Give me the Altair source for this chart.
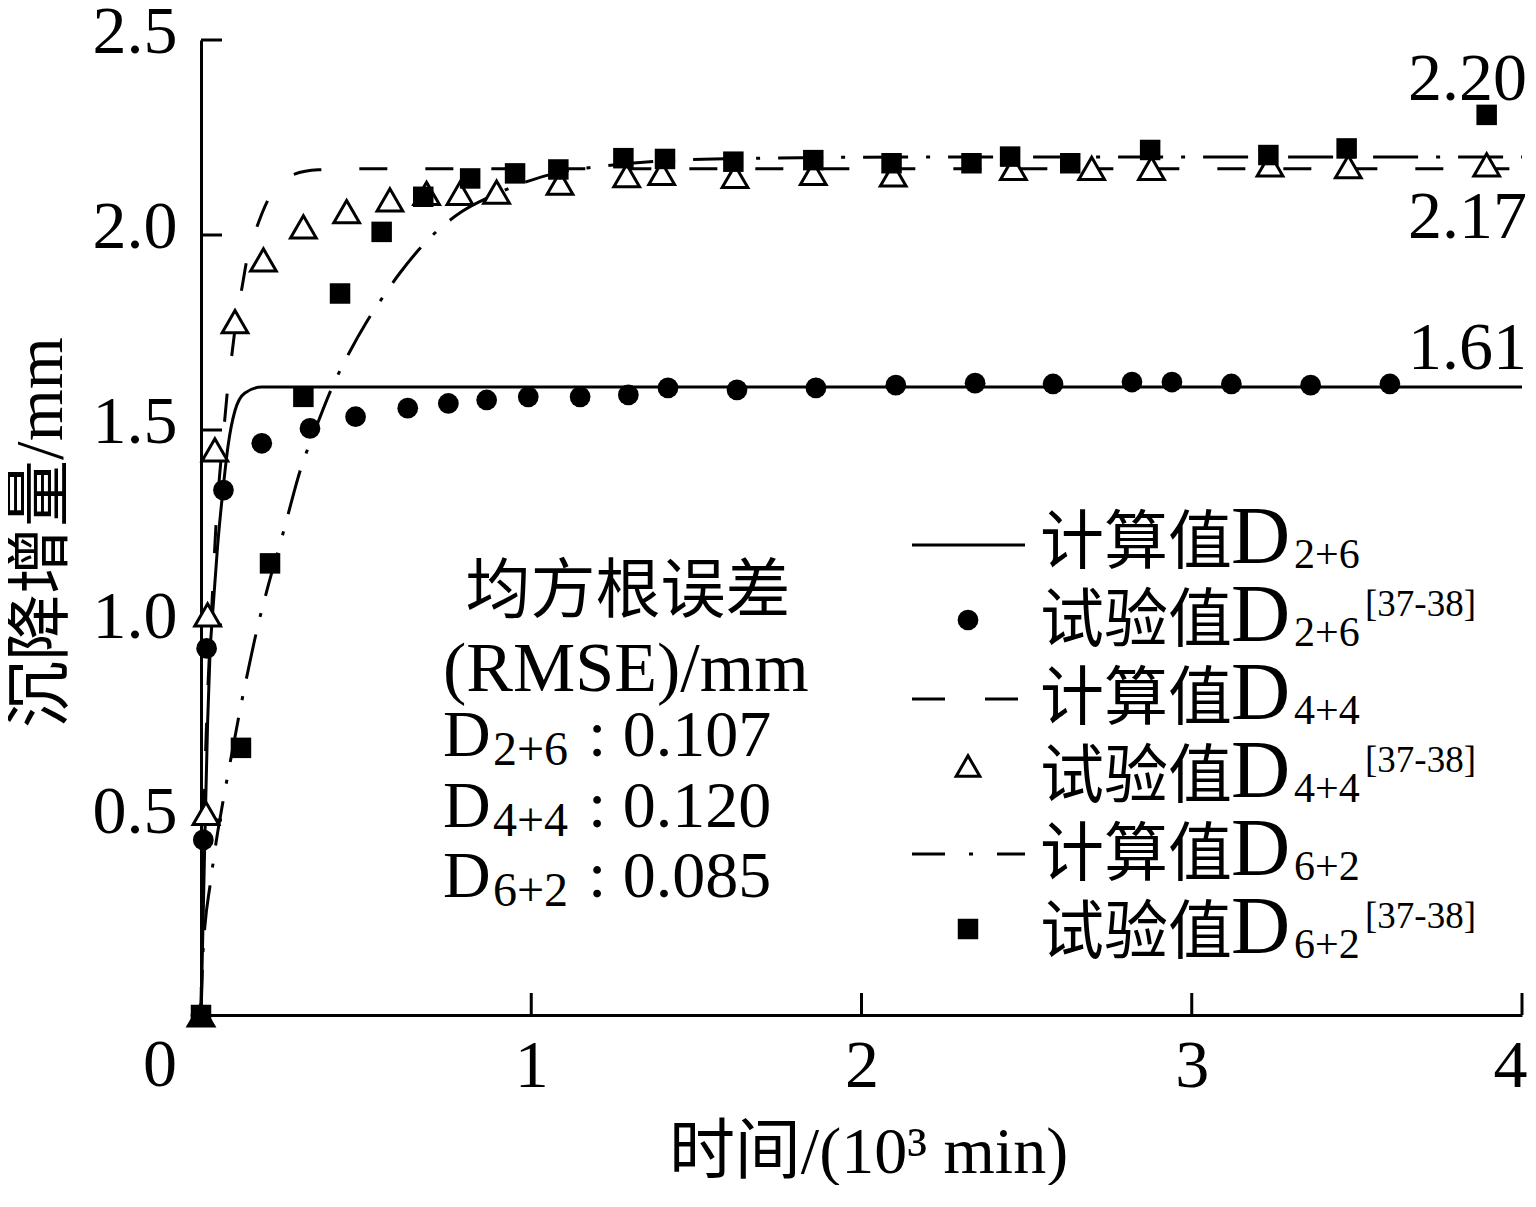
import altair as alt
import pandas as pd

# ---------------- data ----------------
# calculated curves (time in 10^3 min, settlement increment in mm)
calc_26_t = [0, 0.006, 0.012, 0.02, 0.027, 0.037, 0.05, 0.067, 0.082, 0.103, 0.133, 0.184, 0.3, 4.0]
calc_26_y = [0, 0.23, 0.466, 0.75, 0.92, 1.05, 1.2, 1.35, 1.46, 1.55, 1.595, 1.61, 1.61, 1.61]

calc_44_t = [0, 0.004, 0.01, 0.02, 0.03, 0.037, 0.047, 0.057, 0.067, 0.08, 0.093, 0.108, 0.123,
             0.142, 0.169, 0.2, 0.248, 0.276, 0.355, 0.5, 4.0]
calc_44_y = [0, 0.3, 0.55, 0.82, 1.0, 1.12, 1.28, 1.39, 1.48, 1.6, 1.69, 1.79, 1.86,
             1.95, 2.02, 2.085, 2.136, 2.154, 2.167, 2.17, 2.17]

calc_62_t = [0, 0.006, 0.012, 0.027, 0.047, 0.063, 0.08, 0.1, 0.12, 0.143, 0.17, 0.2, 0.25, 0.3,
             0.35, 0.4, 0.45, 0.5, 0.55, 0.6, 0.69, 0.79, 0.88, 0.98, 1.08, 1.2, 1.4, 1.7, 2.2, 4.0]
calc_62_y = [0, 0.16, 0.23, 0.33, 0.45, 0.53, 0.61, 0.70, 0.79, 0.885, 0.99, 1.09, 1.24, 1.395,
             1.51, 1.615, 1.70, 1.775, 1.84, 1.90, 1.99, 2.06, 2.10, 2.135, 2.16, 2.175, 2.19, 2.197, 2.2, 2.2]

# experimental points
exp_26_t = [0, 0.007, 0.017, 0.068, 0.184, 0.33, 0.468, 0.626, 0.749, 0.865, 0.991, 1.148, 1.294,
            1.414, 1.623, 1.862, 2.104, 2.344, 2.58, 2.819, 2.94, 3.12, 3.36, 3.6]
exp_26_y = [0, 0.449, 0.94, 1.346, 1.466, 1.504, 1.534, 1.556, 1.568, 1.577, 1.585, 1.585, 1.59,
            1.608, 1.603, 1.608, 1.615, 1.62, 1.618, 1.623, 1.623, 1.618, 1.615, 1.618]

exp_44_t = [0, 0.015, 0.02, 0.042, 0.103, 0.189, 0.31, 0.441, 0.572, 0.683, 0.784, 0.895, 1.087,
            1.289, 1.395, 1.617, 1.854, 2.096, 2.46, 2.697, 2.878, 3.237, 3.474, 3.893]
exp_44_y = [0, 0.517, 1.026, 1.449, 1.778, 1.936, 2.021, 2.06, 2.09, 2.107, 2.107, 2.11, 2.133,
            2.152, 2.158, 2.15, 2.158, 2.154, 2.171, 2.171, 2.171, 2.18, 2.175, 2.18]

exp_62_t = [0, 0.121, 0.209, 0.31, 0.421, 0.547, 0.673, 0.815, 0.951, 1.082, 1.279, 1.405, 1.612,
            1.854, 2.091, 2.333, 2.45, 2.632, 2.874, 3.232, 3.469, 3.893]
exp_62_y = [0, 0.685, 1.158, 1.585, 1.85, 2.008, 2.098, 2.145, 2.158, 2.168, 2.197, 2.195, 2.188,
            2.192, 2.184, 2.184, 2.201, 2.184, 2.218, 2.205, 2.222, 2.308]

# axes
y_ticks = [0.5, 1.0, 1.5, 2.0, 2.5]
x_ticks = [1, 2, 3, 4]
origin_label = ["0"]
x_title = "时间/(10³ min)"
y_title = "沉降增量/mm"

# end-value annotations
end_values = [2.20, 2.17, 1.61]
end_texts = ["2.20", "2.17", "1.61"]

# legend
legend_main = ["计算值", "试验值", "计算值", "试验值", "计算值", "试验值"]
legend_sub = ["2+6", "2+6", "4+4", "4+4", "6+2", "6+2"]
legend_ref = ["", "[37-38]", "", "[37-38]", "", "[37-38]"]

# RMSE box
rmse_title = ["均方根误差", "(RMSE)/mm"]
rmse_names = ["2+6", "4+4", "6+2"]
rmse_values = ["0.107", "0.120", "0.085"]

# ---------------- styling ----------------
W, H = 1321, 975
LEFT, TOP, RIGHT = 193, 32, 6
SERIF = "Liberation Serif, Noto Sans CJK SC"
CJK = "Noto Sans CJK SC"
DASH = [28, 38]
DASHDOT = [45, 18, 4, 18]

xs = alt.Scale(domain=[0, 4], nice=False, zero=False)
ys = alt.Scale(domain=[0, 2.5], nice=False, zero=False)

XA = alt.Axis(values=x_ticks, format="d", ticks=False, grid=False, domain=True,
              domainColor="black", domainWidth=3, labelFont=SERIF, labelFontSize=68,
              labelColor="black", labelPadding=17, labelFlush=True, labelFlushOffset=5,
              labelBound=False,
              title=x_title, titleFont=SERIF, titleFontSize=66, titleFontWeight="normal",
              titleColor="black", titleX=667, titleY=137, titleBaseline="middle",
              titleAlign="center", titleAngle=0)
YA = alt.Axis(values=y_ticks, format=".1f", ticks=False, grid=False, domain=True,
              domainColor="black", domainWidth=3, labelFont=SERIF, labelFontSize=68,
              labelColor="black", labelPadding=24, labelOffset=-8, labelFlush=False,
              labelBound=False, title=y_title, titleFont=SERIF, titleFontSize=67,
              titleFontWeight="normal", titleColor="black", titleX=-160, titleY=492,
              titleBaseline="middle", titleAlign="center", titleAngle=270)


def px(page_x):
    return page_x - 8 - LEFT


def py(page_y):
    return page_y - 8 - TOP


def X(field):
    return alt.X(field, scale=xs, axis=XA)


def Y(field):
    return alt.Y(field, scale=ys, axis=YA)


def curve(t, y, dash=None):
    df = pd.DataFrame({"t": t, "y": y})
    kw = dict(color="black", strokeWidth=3, interpolate="monotone", clip=False)
    if dash:
        kw["strokeDash"] = dash
    return alt.Chart(df).mark_line(**kw).encode(x=X("t:Q"), y=Y("y:Q"))


def points(t, y, shape, size, fill, stroke_width=0):
    df = pd.DataFrame({"t": t, "y": y})
    return alt.Chart(df).mark_point(shape=shape, size=size, filled=True, fill=fill, stroke="black",
                                    strokeWidth=stroke_width, opacity=1, clip=False).encode(
        x=X("t:Q"), y=Y("y:Q"))


def text(s, x, y, size, font=SERIF, align="left", baseline="alphabetic"):
    df = pd.DataFrame({"s": [s]})
    return alt.Chart(df).mark_text(font=font, fontSize=size, align=align, baseline=baseline,
                                   color="black").encode(
        x=alt.value(x), y=alt.value(y), text="s:N")


layers = []
layers.append(curve(calc_26_t, calc_26_y))
layers.append(curve(calc_44_t, calc_44_y, dash=DASH))
layers.append(curve(calc_62_t, calc_62_y, dash=DASHDOT))

# inward ticks
ty = pd.DataFrame({"v": y_ticks})
layers.append(alt.Chart(ty).mark_rule(color="black", strokeWidth=3).encode(
    y=Y("v:Q"), x=alt.value(0), x2=alt.value(21)))
tx = pd.DataFrame({"v": x_ticks})
layers.append(alt.Chart(tx).mark_rule(color="black", strokeWidth=3).encode(
    x=X("v:Q"), y=alt.value(H - 22), y2=alt.value(H)))

# origin label
ol = pd.DataFrame({"v": [0], "s": origin_label})
layers.append(alt.Chart(ol).mark_text(font=SERIF, fontSize=68, baseline="top", align="center",
                                      dx=-41, color="black").encode(
    x=X("v:Q"), y=alt.value(H + 17), text="s:N"))

# points
layers.append(points(exp_26_t, exp_26_y, "circle", 430, "black"))
layers.append(points(exp_44_t, exp_44_y, "triangle-up", 660, "white", 3))
layers.append(points(exp_62_t, exp_62_y, "square", 420, "black"))

# end-value annotations
for v, s, dy in zip(end_values, end_texts, [-57, 69, -18]):
    d = pd.DataFrame({"t": [4.0], "y": [v], "s": [s]})
    layers.append(alt.Chart(d).mark_text(font=SERIF, fontSize=68, align="right",
                                         baseline="alphabetic", dx=5, dy=dy, color="black").encode(
        x=X("t:Q"), y=Y("y:Q"), text="s:N"))

# legend
row_base = [563, 641, 719, 797, 875, 953]
for i in range(6):
    b = row_base[i]
    layers.append(text(legend_main[i], px(1040), py(b), 64, font=CJK))
    layers.append(text("D", px(1231), py(b), 82))
    layers.append(text(legend_sub[i], px(1294), py(b + 5), 42))
    if legend_ref[i]:
        layers.append(text(legend_ref[i], px(1365), py(b - 25), 37))

sym = pd.DataFrame({"k": [0]})
layers.append(alt.Chart(sym).mark_rule(color="black", strokeWidth=3).encode(
    x=alt.value(px(912)), x2=alt.value(px(1025)), y=alt.value(py(545))))
layers.append(alt.Chart(sym).mark_rule(color="black", strokeWidth=3, strokeDash=[33, 40]).encode(
    x=alt.value(px(912)), x2=alt.value(px(1025)), y=alt.value(py(699))))
layers.append(alt.Chart(sym).mark_rule(color="black", strokeWidth=3, strokeDash=[33, 24, 4, 24]).encode(
    x=alt.value(px(912)), x2=alt.value(px(1025)), y=alt.value(py(854))))
layers.append(alt.Chart(sym).mark_point(shape="circle", size=430, filled=True, fill="black",
                                        opacity=1).encode(
    x=alt.value(px(968)), y=alt.value(py(620))))
layers.append(alt.Chart(sym).mark_point(shape="triangle-up", size=560, filled=True, fill="white",
                                        stroke="black", strokeWidth=3, opacity=1).encode(
    x=alt.value(px(968)), y=alt.value(py(766))))
layers.append(alt.Chart(sym).mark_point(shape="square", size=420, filled=True, fill="black",
                                        opacity=1).encode(
    x=alt.value(px(968)), y=alt.value(py(929))))

# RMSE box
layers.append(text(rmse_title[0], px(628), py(612), 65, font=CJK, align="center"))
layers.append(text(rmse_title[1], px(443), py(691), 70))
rmse_base = [756, 827, 897]
for i in range(3):
    b = rmse_base[i]
    layers.append(text("D", px(443), py(b), 66))
    layers.append(text(rmse_names[i], px(493), py(b + 9), 48))
    layers.append(text(": " + rmse_values[i], px(588), py(b), 66))

chart = alt.layer(*layers).properties(
    width=W, height=H,
    autosize=alt.AutoSizeParams(type="none"),
    padding={"left": LEFT, "top": TOP, "right": RIGHT, "bottom": 170},
    background="white",
).configure_view(stroke=None)

chart.save("out.html", embed_options={"renderer": "svg", "actions": False})
